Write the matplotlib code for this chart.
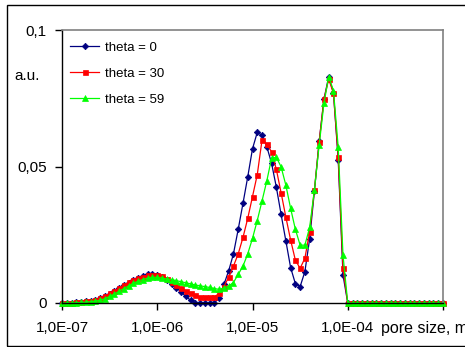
import numpy as np
import matplotlib
matplotlib.use("Agg")
import matplotlib.pyplot as plt
from matplotlib.patches import Rectangle

plt.rcParams['font.family'] = ['Liberation Sans', 'DejaVu Sans']

# pore size grid (20 points per decade, 1e-7 .. 1e-3 m)
pore_size = np.logspace(-7, -3, 81)

theta_0 = [0, 0, 0, 0.0002, 0.0005, 0.0007, 0.0009, 0.001, 0.0017, 0.0025,
           0.0033, 0.0044, 0.0055, 0.0065, 0.0075, 0.0083, 0.0091, 0.0099, 0.0105, 0.0108,
           0.0104, 0.0095, 0.0083, 0.0071, 0.0056, 0.0041, 0.0024, 0.001, 0, 0,
           0, 0, 0, 0.002, 0.0068, 0.0118, 0.018, 0.027, 0.0365, 0.0462,
           0.0565, 0.0625, 0.0615, 0.0573, 0.0512, 0.0425, 0.0325, 0.0228, 0.013, 0.0071,
           0.006, 0.0115, 0.0235, 0.041, 0.0592, 0.0746, 0.0829, 0.077, 0.0524, 0.0103,
           0, 0, 0, 0, 0, 0, 0, 0, 0, 0, 0, 0, 0, 0, 0, 0, 0, 0, 0, 0, 0]

theta_30 = [0, 0, 0.0001, 0.0003, 0.0005, 0.0007, 0.0009, 0.0012, 0.0018, 0.0026,
            0.0035, 0.0045, 0.0056, 0.0066, 0.0076, 0.0084, 0.0091, 0.0097, 0.0101, 0.0104,
            0.0103, 0.0098, 0.0088, 0.0078, 0.0066, 0.0054, 0.0044, 0.0036, 0.0028, 0.0023,
            0.0021, 0.0021, 0.0023, 0.0035, 0.006, 0.0095, 0.0135, 0.018, 0.024, 0.031,
            0.039, 0.047, 0.0597, 0.0582, 0.0554, 0.049, 0.0404, 0.0315, 0.0231, 0.0157,
            0.0127, 0.0164, 0.0261, 0.0414, 0.0591, 0.0746, 0.082, 0.0768, 0.0536, 0.0127,
            0, 0, 0, 0, 0, 0, 0, 0, 0, 0, 0, 0, 0, 0, 0, 0, 0, 0, 0, 0, 0]

theta_59 = [0, 0, 0, 0.0001, 0.0002, 0.0003, 0.0005, 0.0007, 0.001, 0.0016,
            0.0024, 0.0033, 0.0043, 0.0053, 0.0063, 0.0072, 0.008, 0.0086, 0.0091, 0.0094,
            0.0094, 0.0091, 0.0088, 0.0086, 0.0082, 0.0078, 0.0074, 0.007, 0.0066, 0.0063,
            0.006, 0.0057, 0.0053, 0.005, 0.0055, 0.0062, 0.0075, 0.0105, 0.0135, 0.018,
            0.0237, 0.0302, 0.0374, 0.0447, 0.053, 0.0534, 0.0499, 0.0432, 0.0347, 0.027,
            0.0212, 0.0212, 0.0277, 0.0414, 0.0579, 0.0731, 0.0829, 0.0778, 0.057, 0.0176,
            0, 0, 0, 0, 0, 0, 0, 0, 0, 0, 0, 0, 0, 0, 0, 0, 0, 0, 0, 0, 0]

series_labels = ["theta = 0", "theta = 30", "theta = 59"]
x_ticks = [1e-7, 1e-6, 1e-5, 1e-4, 1e-3]
x_tick_labels = ["1,0E-07", "1,0E-06", "1,0E-05", "1,0E-04", ""]
y_ticks = [0, 0.05, 0.1]
y_tick_labels = ["0", "0,05", "0,1"]

W, H = 465, 347
fig = plt.figure(figsize=(W / 100, H / 100), dpi=100)
fig.patch.set_facecolor('white')

# outer chart border
fig.patches.append(Rectangle((7 / W, (H - 345.5) / H), (W + 10 - 7) / W, (345.5 - 5) / H,
                             transform=fig.transFigure, fill=False, edgecolor='black',
                             linewidth=1.0, clip_on=False))

left, right, top, bottom = 62, 443, 30, 303
ax = fig.add_axes([left / W, (H - bottom) / H, (right - left) / W, (bottom - top) / H])

styles = [
    dict(color='#000080', marker='D', markersize=3.3),
    dict(color='#FF0000', marker='s', markersize=3.6),
    dict(color='#00FF00', marker='^', markersize=4.2),
]
for vals, lab, st in zip([theta_0, theta_30, theta_59], series_labels, styles):
    ax.plot(pore_size, vals, linewidth=0.9, label=lab, clip_on=False,
            markeredgewidth=0.5, markeredgecolor=st['color'], **st)

ax.set_xscale('log')
ax.set_xlim(1e-7, 1e-3)
ax.set_ylim(0, 0.1)
ax.set_xticks(x_ticks)
ax.set_xticklabels(x_tick_labels)
ax.minorticks_off()
ax.set_yticks(y_ticks)
ax.set_yticklabels(y_tick_labels)
ax.tick_params(axis='both', direction='out', length=5, width=1, labelsize=11, colors='black')
ax.tick_params(axis='x', pad=8)
ax.tick_params(axis='y', pad=6)

for s in ['left', 'bottom']:
    ax.spines[s].set_color('black')
    ax.spines[s].set_linewidth(1.0)
for s in ['top', 'right']:
    ax.spines[s].set_color('#808080')
    ax.spines[s].set_linewidth(1.2)

leg = ax.legend(loc='upper left', bbox_to_anchor=(0.015, 0.967), frameon=False,
                fontsize=9.5, handlelength=2.2, handletextpad=0.4, labelspacing=1.05,
                borderpad=0.2, borderaxespad=0)

fig.text(14 / W, (H - 76) / H, "a.u.", fontsize=11, ha='left', va='center')
fig.text(381 / W, (H - 329) / H, "pore size, m", fontsize=11.5, ha='left', va='center')

fig.savefig('out.png', dpi=100, facecolor='white')
